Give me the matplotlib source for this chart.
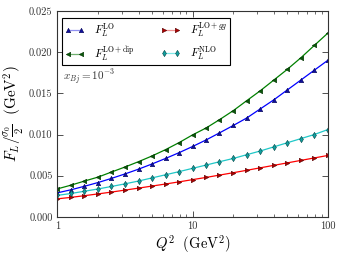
import matplotlib
matplotlib.use('Agg')
import matplotlib.pyplot as plt
from matplotlib.ticker import FixedLocator, FixedFormatter, NullFormatter, LogLocator

plt.rcParams['mathtext.fontset'] = 'cm'
plt.rcParams['font.family'] = 'serif'
plt.rcParams['font.serif'] = ['cmr10', 'DejaVu Serif']
plt.rcParams['axes.unicode_minus'] = False

q2 = [1, 1.26, 1.58, 2.0, 2.51, 3.16, 3.98, 5.01, 6.31, 7.94, 10,
      12.6, 15.8, 20.0, 25.1, 31.6, 39.8, 50.1, 63.1, 79.4, 100]

fl_lo = [0.00293, 0.00330, 0.00372, 0.00418, 0.00468, 0.00522, 0.00580, 0.00643, 0.00710, 0.00780, 0.00855,
         0.00935, 0.0102, 0.0111, 0.0120, 0.0131, 0.0142, 0.0154, 0.0166, 0.0178, 0.0190]
fl_dip = [0.00341, 0.00386, 0.00435, 0.00484, 0.00545, 0.00606, 0.00671, 0.00740, 0.00817, 0.00902, 0.00996,
          0.0108, 0.0118, 0.0129, 0.0141, 0.0153, 0.0166, 0.0179, 0.0193, 0.0208, 0.0223]
fl_gg = [0.00220, 0.00238, 0.00258, 0.00280, 0.00302, 0.00326, 0.00350, 0.00375, 0.00400, 0.00426, 0.00453,
         0.00480, 0.00508, 0.00537, 0.00566, 0.00596, 0.00626, 0.00656, 0.00686, 0.00716, 0.00746]
fl_nlo = [0.00262, 0.00285, 0.00312, 0.00340, 0.00370, 0.00402, 0.00436, 0.00474, 0.00512, 0.00550, 0.00590,
          0.00630, 0.00670, 0.00710, 0.00755, 0.00800, 0.00850, 0.00900, 0.00950, 0.01000, 0.01060]

fig = plt.figure(figsize=(3.44, 2.58), dpi=100)
ax = fig.add_axes([0.167, 0.159, 0.786, 0.799])

ms = 3.2
ax.plot(q2, fl_lo, color='blue', lw=0.9, marker='^', ms=ms, mfc='#1010a0', mec='#000050', mew=0.4,
        label=r'$F_L^{\rm LO}$')
ax.plot(q2, fl_dip, color='green', lw=0.9, marker='<', ms=ms, mfc='#0a5a0a', mew=0.4, mec='#003000',
        label=r'$F_L^{\rm LO+dip}$')
ax.plot(q2, fl_gg, color='red', lw=0.9, marker='>', ms=ms, mfc='#b00000', mew=0.4, mec='#500000',
        label=r'$F_L^{{\rm LO}+gg}$')
ax.plot(q2, fl_nlo, color='#20c8c8', lw=0.9, marker='d', ms=ms, mfc='#10a0a0', mew=0.4, mec='#004040',
        label=r'$F_L^{\rm NLO}$')

ax.set_xscale('log')
ax.set_xlim(1, 100)
ax.set_ylim(0, 0.025)
ax.xaxis.set_major_locator(FixedLocator([1, 10, 100]))
ax.xaxis.set_major_formatter(FixedFormatter(['1', '10', '100']))
ax.xaxis.set_minor_locator(LogLocator(base=10, subs=range(2, 10)))
ax.xaxis.set_minor_formatter(NullFormatter())
ax.set_yticks([0, 0.005, 0.010, 0.015, 0.020, 0.025])
ax.set_yticklabels(['0.000', '0.005', '0.010', '0.015', '0.020', '0.025'])
ax.tick_params(which='both', direction='in', top=True, right=True, labelsize=7.5, colors='#333333')
ax.tick_params(which='major', length=4, width=0.6)
ax.tick_params(which='minor', length=2, width=0.5)
for s in ax.spines.values():
    s.set_linewidth(0.8)
    s.set_color('#333333')

ax.set_xlabel(r'$Q^2\ \ (\mathrm{GeV}^2)$', fontsize=10.5, labelpad=1)
ax.set_ylabel(r'$F_L/\frac{\sigma_0}{2}\ \ (\mathrm{GeV}^2)$', fontsize=11, labelpad=2)

leg = ax.legend(ncol=2, loc='upper left', bbox_to_anchor=(0.017, 0.967), fontsize=8, numpoints=2,
                fancybox=False, edgecolor='black', framealpha=1, handlelength=1.8,
                handletextpad=0.9, columnspacing=2.3, borderpad=0.2, labelspacing=0.5,
                borderaxespad=0)
leg.get_frame().set_linewidth(0.8)
# lighter connecting lines in the legend, markers stay dark
light = ['#9090f0', '#70b070', '#f09090', '#80e8e8']
for ln, c in zip(leg.get_lines(), light):
    ln.set_color(c)

ax.text(0.022, 0.675, r'$x_{Bj} = 10^{-3}$', transform=ax.transAxes, fontsize=8, color='#333333',
        va='center')

fig.savefig('out.png', dpi=100)
